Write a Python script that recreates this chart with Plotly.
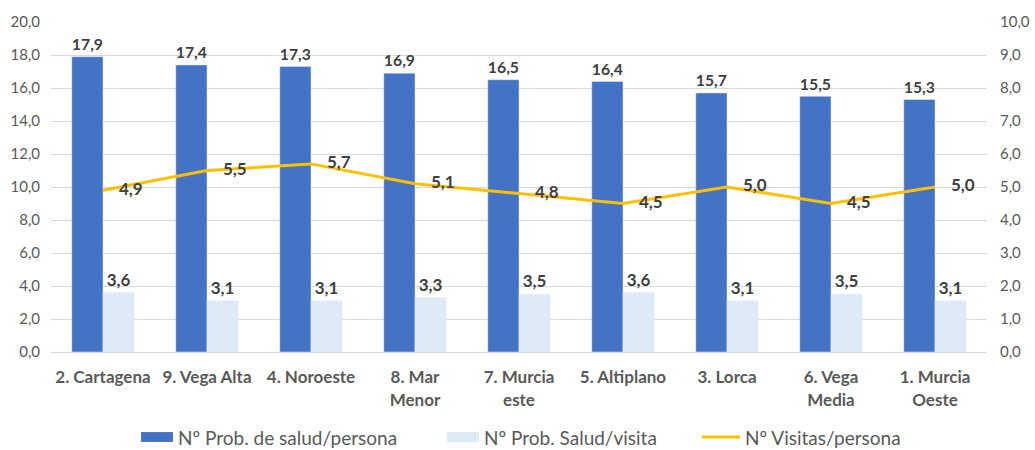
import plotly.graph_objects as go

categories = ["2. Cartagena", "9. Vega Alta", "4. Noroeste", "8. Mar<br>Menor", "7. Murcia<br>este",
              "5. Altiplano", "3. Lorca", "6. Vega<br>Media", "1. Murcia<br>Oeste"]
prob_persona = [17.9, 17.4, 17.3, 16.9, 16.5, 16.4, 15.7, 15.5, 15.3]
prob_visita = [3.6, 3.1, 3.1, 3.3, 3.5, 3.6, 3.1, 3.5, 3.1]
visitas_persona = [4.9, 5.5, 5.7, 5.1, 4.8, 4.5, 5.0, 4.5, 5.0]
series_names = ["Nº Prob. de salud/persona", "Nº Prob. Salud/visita", "Nº Visitas/persona"]
colors = ["#4472C4", "#DEEBF7", "#FFC000"]

FONT = "Lato, Open Sans, sans-serif"
label_font = dict(family=FONT, size=17, color="#404040")


def fmt(v):
    return f"<b>{v:.1f}</b>".replace(".", ",")


fig = go.Figure()
fig.add_trace(go.Bar(
    x=categories, y=prob_persona, name=series_names[0],
    marker=dict(color=colors[0]),
    text=[fmt(v) for v in prob_persona],
    textposition="outside", textfont=label_font, cliponaxis=False,
))
fig.add_trace(go.Bar(
    x=categories, y=prob_visita, name=series_names[1],
    marker=dict(color=colors[1]),
    text=[fmt(v) for v in prob_visita],
    textposition="outside", textfont=label_font, cliponaxis=False,
))
fig.add_trace(go.Scatter(
    x=categories, y=visitas_persona, name=series_names[2], yaxis="y2",
    mode="lines+markers+text",
    line=dict(color=colors[2], width=3),
    marker=dict(size=24, color="rgba(0,0,0,0)"),
    text=[fmt(v) for v in visitas_persona],
    textposition="middle right", textfont=label_font, cliponaxis=False,
))

# custom legend (wide rectangle swatches like the reference)
leg_y = -0.2576
swatches = [(0.0962, 0.1303, 0.1335), (0.4231, 0.4573, 0.4605), (0.6955, 0.7361, 0.7393)]
shapes = []
annotations = []
for i, (x0, x1, xt) in enumerate(swatches):
    if i < 2:
        shapes.append(dict(type="rect", xref="paper", yref="paper", x0=x0, x1=x1,
                           y0=leg_y - 0.015, y1=leg_y + 0.015,
                           fillcolor=colors[i], line=dict(width=0)))
    else:
        shapes.append(dict(type="line", xref="paper", yref="paper", x0=x0, x1=x1,
                           y0=leg_y, y1=leg_y, line=dict(color=colors[i], width=3)))
    annotations.append(dict(text=series_names[i], xref="paper", yref="paper", x=xt, y=leg_y,
                            xanchor="left", yanchor="middle", showarrow=False,
                            font=dict(family=FONT, size=19, color="#595959")))

fig.update_layout(
    width=1035, height=450,
    margin=dict(l=51, r=48, t=22, b=98, autoexpand=False),
    paper_bgcolor="white", plot_bgcolor="white",
    separators=",.",
    barmode="group", bargap=0.4, bargroupgap=0,
    font=dict(family=FONT, color="#595959"),
    showlegend=False,
    shapes=shapes, annotations=annotations,
    xaxis=dict(tickfont=dict(family=FONT, size=17, color="#595959", weight="bold"),
               range=[-0.5, len(categories) - 0.5],
               showline=True, linecolor="#D9D9D9", ticks="", tickangle=0, automargin=False,
               ticklabelstandoff=10),
    yaxis=dict(range=[0, 20], dtick=2, tickformat=".1f", showgrid=True, gridcolor="#D9D9D9",
               tickfont=dict(family=FONT, size=15, color="#595959"), zeroline=False,
               ticklabelstandoff=10, automargin=False),
    yaxis2=dict(range=[0, 10], dtick=1, tickformat=".1f", overlaying="y", side="right",
                showgrid=False, tickfont=dict(family=FONT, size=15, color="#595959"),
                zeroline=False, ticklabelstandoff=12, automargin=False),
)

fig.write_html("out.html", config={"displayModeBar": False},
               post_script="document.body.style.margin='0';")
